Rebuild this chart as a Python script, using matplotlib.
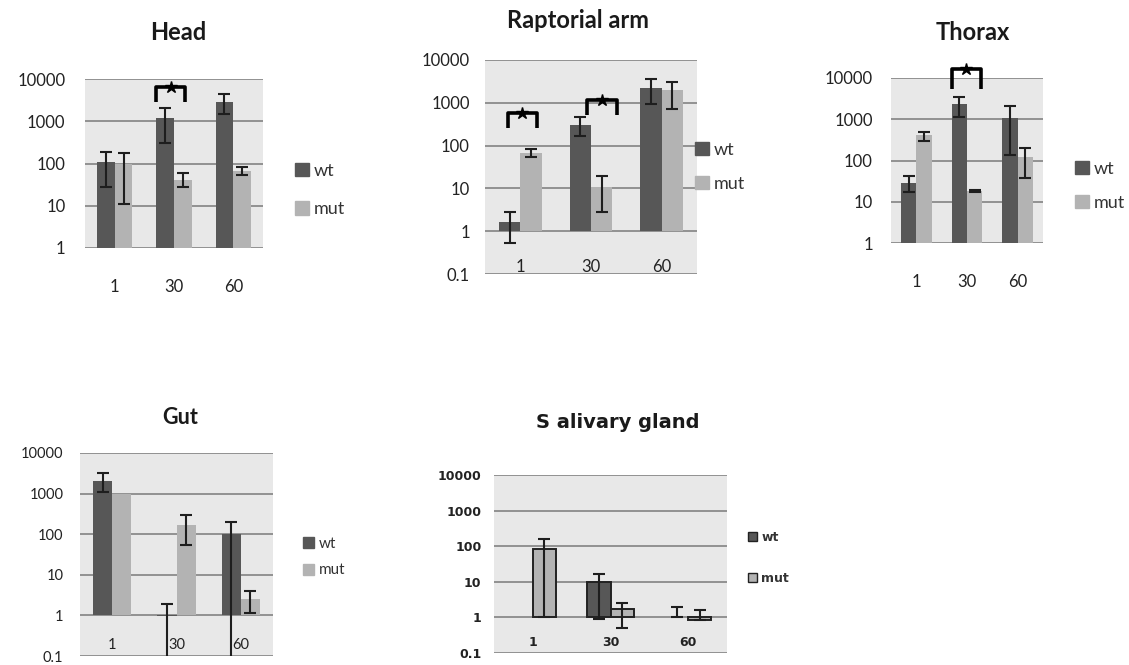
import numpy as np
import matplotlib
matplotlib.use("Agg")
import matplotlib.pyplot as plt
from matplotlib.patches import Patch
from matplotlib.ticker import NullLocator

plt.rcParams['font.family'] = ['Lato', 'DejaVu Sans']

W, H = 1129, 665
categories = ['1', '30', '60']
series = ['wt', 'mut']

# values (bars start at 1, log axis)
head_wt = [110, 1180, 2900]
head_wt_lo = [28, 300, 1450]
head_wt_hi = [190, 2100, 4300]
head_mut = [100, 41, 67]
head_mut_lo = [11, 28, 54]
head_mut_hi = [175, 59, 83]

rap_wt = [1.65, 300, 2200]
rap_wt_lo = [0.53, 166, 930]
rap_wt_hi = [2.8, 470, 3600]
rap_mut = [67, 11, 1950]
rap_mut_lo = [55, 2.8, 700]
rap_mut_hi = [83, 19, 3100]

tho_wt = [29, 2300, 1100]
tho_wt_lo = [17, 1150, 135]
tho_wt_hi = [42, 3500, 2100]
tho_mut = [420, 18, 120]
tho_mut_lo = [300, 17, 37]
tho_mut_hi = [480, 19, 200]

gut_wt = [2100, 0.95, 100]
gut_wt_lo = [1100, 0.05, 0.05]
gut_wt_hi = [3300, 1.95, 200]
gut_mut = [970, 165, 2.6]
gut_mut_lo = [None, 54, 1.17]
gut_mut_hi = [None, 290, 4.0]

sal_wt = [1, 10, 1]
sal_wt_lo = [None, 0.9, 1]
sal_wt_hi = [None, 17, 2.0]
sal_mut = [83, 1.7, 0.85]
sal_mut_lo = [1, 0.5, 0.85]
sal_mut_hi = [160, 2.5, 1.6]

WT_COL = '#575757'
MUT_COL = '#b3b3b3'
BG = '#e8e8e8'
GRID = '#8a8a8a'

fig = plt.figure(figsize=(W / 100, H / 100), dpi=100)


def px_axes(l, t, r, b):
    return fig.add_axes([l / W, 1 - b / H, (r - l) / W, (b - t) / H])


def panel(ax, wt, wt_lo, wt_hi, mut, mut_lo, mut_hi, ymin, fs, xpad, ypad,
          bold=False, edge=None):
    x = np.arange(len(categories))
    w = 0.3
    weight = 'bold' if bold else 'normal'
    ax.set_facecolor(BG)
    for off, vals, lo, hi, col in [(-w / 2, wt, wt_lo, wt_hi, WT_COL),
                                   (w / 2, mut, mut_lo, mut_hi, MUT_COL)]:
        v = np.array(vals, dtype=float)
        lw = [1.4 if (edge and abs(h - 1) > 1e-9) else 0 for h in v]
        ax.bar(x + off, v - 1, width=w, bottom=1, color=col, zorder=2,
               edgecolor=edge if edge else col, linewidth=lw)
        for i in range(len(v)):
            if lo[i] is None:
                continue
            ax.errorbar(x[i] + off, v[i], yerr=[[v[i] - lo[i]], [hi[i] - v[i]]],
                        fmt='none', ecolor='#1e1e1e', elinewidth=1.5,
                        capsize=4, capthick=1.5, zorder=3)
    ax.set_yscale('log')
    ax.set_ylim(ymin, 10000)
    ax.set_xlim(-0.5, len(categories) - 0.5)
    ticks = [t for t in [0.1, 1, 10, 100, 1000, 10000] if t >= ymin]
    ax.set_yticks(ticks)
    ax.set_yticklabels(['%g' % t for t in ticks], fontsize=fs, fontweight=weight,
                       color='#222222')
    ax.yaxis.set_minor_locator(NullLocator())
    ax.set_xticks(x)
    ax.set_xticklabels(categories, fontsize=fs, fontweight=weight, color='#222222')
    ax.tick_params(axis='x', length=0, pad=xpad)
    ax.tick_params(axis='y', length=0, pad=ypad)
    ax.grid(axis='y', color=GRID, linewidth=1.3)
    ax.set_axisbelow(True)
    for s in ax.spines.values():
        s.set_visible(False)


def legend(ax, lx, cy, fs, spacing, bold=False, edge=None):
    handles = [Patch(facecolor=WT_COL, edgecolor=edge if edge else WT_COL),
               Patch(facecolor=MUT_COL, edgecolor=edge if edge else MUT_COL)]
    ax.legend(handles, series, loc='center left', bbox_to_anchor=(lx / W, 1 - cy / H),
              bbox_transform=fig.transFigure, frameon=False, borderpad=0,
              borderaxespad=0, handlelength=0.75, handleheight=0.75,
              handletextpad=0.3, labelspacing=spacing,
              prop={'size': fs, 'weight': 'bold' if bold else 'normal'},
              labelcolor='#333333')


def bracket(ax, xc, x0, x1, ylo, yhi):
    ax.plot([xc + x0, xc + x0, xc + x1, xc + x1], [ylo, yhi, yhi, ylo],
            color='black', lw=2.6, solid_joinstyle='round', solid_capstyle='butt',
            clip_on=False, zorder=4)
    # significance mark sitting on the bracket
    ax.plot([xc + (x0 + x1) / 2], [yhi], marker='*', ms=9, color='black',
            clip_on=False, zorder=5)


def title(x, y, s, fs, fam=None):
    fig.text(x / W, 1 - y / H, s, ha='center', va='center', fontsize=fs,
             fontweight='bold', color='#1a1a1a', family=fam or ['Lato', 'DejaVu Sans'])


# Head
ax1 = px_axes(85, 79, 263, 248)
panel(ax1, head_wt, head_wt_lo, head_wt_hi, head_mut, head_mut_lo, head_mut_hi,
      1, 12, 22, 14)
bracket(ax1, 1, -0.3, 0.19, 2900, 6500)
legend(ax1, 295, 190, 13, 1.25)
title(178, 33, 'Head', 17)

# Raptorial arm
ax2 = px_axes(485, 60, 697, 274)
panel(ax2, rap_wt, rap_wt_lo, rap_wt_hi, rap_mut, rap_mut_lo, rap_mut_hi,
      0.1, 12, -11, 11)
bracket(ax2, 0, -0.18, 0.24, 260, 590)
bracket(ax2, 1, -0.05, 0.37, 520, 1170)
legend(ax2, 695, 167, 13, 1.0)
title(578, 20, 'Raptorial arm', 17)

# Thorax
ax3 = px_axes(891, 78, 1043, 243)
panel(ax3, tho_wt, tho_wt_lo, tho_wt_hi, tho_mut, tho_mut_lo, tho_mut_hi,
      1, 12, 22, 13)
bracket(ax3, 1, -0.3, 0.28, 5400, 16600)
legend(ax3, 1075, 186, 13, 1.0)
title(973, 33, 'Thorax', 17)

# Gut
ax4 = px_axes(80, 453, 273, 656)
panel(ax4, gut_wt, gut_wt_lo, gut_wt_hi, gut_mut, gut_mut_lo, gut_mut_hi,
      0.1, 10.5, -13, 12)
legend(ax4, 303, 557, 11, 0.85)
title(180, 418, 'Gut', 15.5)

# Salivary gland
ax5 = px_axes(494, 475, 727, 653)
panel(ax5, sal_wt, sal_wt_lo, sal_wt_hi, sal_mut, sal_mut_lo, sal_mut_hi,
      0.1, 9, -12, 9, bold=True, edge='#222222')
for lab in ax5.get_xticklabels() + ax5.get_yticklabels():
    lab.set_family('DejaVu Sans')
legend(ax5, 748, 558, 9, 2.2, bold=True, edge='#222222')
for t in ax5.get_legend().get_texts():
    t.set_family('DejaVu Sans')
title(618, 423, 'S alivary gland', 14, fam=['DejaVu Sans'])

fig.savefig('out.png', dpi=100, facecolor='white')
